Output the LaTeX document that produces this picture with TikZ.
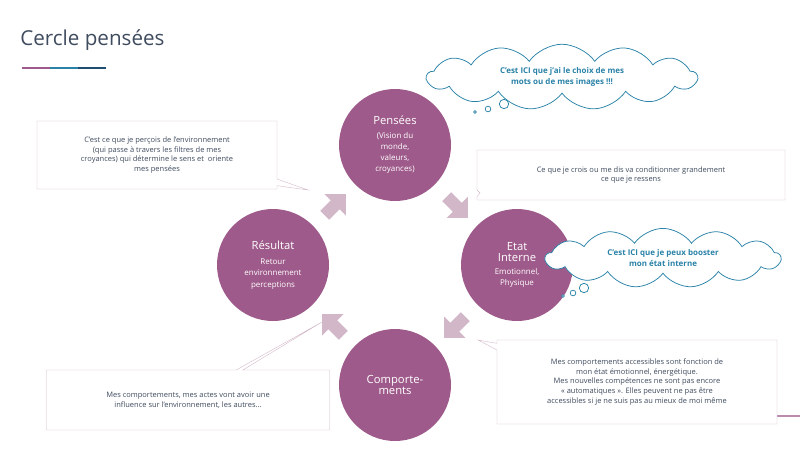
\documentclass[tikz,border=0pt]{standalone}
\usepackage{fontspec}
\setmainfont{Open Sans}
\usetikzlibrary{shapes.symbols,shapes.arrows,shapes.callouts}
\definecolor{prune}{HTML}{9E5A8A}
\definecolor{rose}{HTML}{D2B7C8}
\definecolor{ardoise}{HTML}{3F4B5E}
\definecolor{bleu}{HTML}{2A82A8}
\definecolor{bleunuit}{HTML}{1E4F72}

\begin{document}
\begin{tikzpicture}[x=0.0375cm, y=-0.0375cm,
  c/.style={circle, fill=prune, text=white, minimum size=112*0.0375cm, align=center, inner sep=1pt},
  fl/.style={single arrow, fill=rose, minimum height=30*0.0375cm, minimum width=30*0.0375cm, single arrow head extend=3pt, inner sep=2pt},
  bulle/.style={rectangle callout, draw=rose, fill=white, text=ardoise, align=center, font=\fontsize{8}{10.5}\selectfont, inner sep=6pt},
  nuage/.style={cloud, cloud puffs=13, cloud puff arc=110, aspect=4.2, draw=bleu, thick, fill=white, text=bleu, align=center, font=\fontsize{8.5}{11}\selectfont\bfseries},
  rond/.style={circle, draw=bleu, thick, fill=white, inner sep=0pt}]
\useasboundingbox (0,0) rectangle (800,449);
% titre
\node[anchor=west, text=ardoise, font=\fontsize{22}{26}\selectfont] (titre) at (17,40) {Cercle pensées};
\draw[prune, line width=2.5pt] (22,68) -- (50,68);
\draw[bleu, line width=2.5pt] (50,68) -- (78,68);
\draw[bleunuit, line width=2.5pt] (78,68) -- (106,68);
\draw[prune!70, line width=2pt] (777,416) -- (800,416);
% cercles
\node[c] (P) at (395,145) {{\fontsize{12}{14}\selectfont Pensées}\\[2pt]{\fontsize{8.5}{11}\selectfont (Vision du}\\{\fontsize{8.5}{11}\selectfont monde,}\\{\fontsize{8.5}{11}\selectfont valeurs,}\\{\fontsize{8.5}{11}\selectfont croyances)}};
\node[c] (E) at (517,265) {{\fontsize{12}{14}\selectfont Etat}\\{\fontsize{12}{14}\selectfont Interne}\\[2pt]{\fontsize{8.5}{13}\selectfont Emotionnel,}\\{\fontsize{8.5}{13}\selectfont Physique}};
\node[c] (C) at (395,385) {{\fontsize{12}{14}\selectfont Comporte-}\\{\fontsize{12}{14}\selectfont ments}};
\node[c] (R) at (273,265) {{\fontsize{12}{14}\selectfont Résultat}\\[4pt]{\fontsize{8.5}{13}\selectfont Retour}\\{\fontsize{8.5}{13}\selectfont environnement}\\{\fontsize{8.5}{13}\selectfont perceptions}};
% fleches
\node[fl, rotate=45] (f1) at (333,207) {};
\node[fl, rotate=-45] (f2) at (455,205) {};
\node[fl, rotate=-135] (f3) at (457,325) {};
\node[fl, rotate=135] (f4) at (335,327) {};
% bulles
\node[bulle, minimum width=240*0.0375cm, minimum height=68*0.0375cm, callout absolute pointer={(308,190)}] (b1) at (157,155) {C’est ce que je perçois de l’environnement\\(qui passe à travers les filtres de mes\\croyances) qui détermine le sens et~ oriente\\mes pensées};
\node[bulle, minimum width=308*0.0375cm, minimum height=50*0.0375cm, callout absolute pointer={(480,193)}] (b2) at (631,175) {Ce que je crois ou me dis va conditionner grandement\\ce que je ressens};
\node[bulle, minimum width=280*0.0375cm, minimum height=84*0.0375cm, callout absolute pointer={(478,340)}] (b3) at (637,382) {Mes comportements accessibles sont fonction de\\mon état émotionnel, énergétique.\\Mes nouvelles compétences ne sont pas encore\\« automatiques ». Elles peuvent ne pas être\\accessibles si je ne suis pas au mieux de moi même};
\node[bulle, minimum width=283*0.0375cm, minimum height=60*0.0375cm, callout absolute pointer={(322,322)}] (b4) at (188,400) {Mes comportements, mes actes vont avoir une\\influence sur l’environnement, les autres…};
% nuages
\node[nuage, minimum width=270*0.0375cm, minimum height=58*0.0375cm] (n1) at (562,77) {C’est ICI que j’ai le choix de mes\\mots ou de mes images !!!};
\node[rond, minimum size=10pt] (n1a) at (504,104) {};
\node[rond, minimum size=6pt] (n1b) at (488,109) {};
\node[rond, minimum size=3pt] (n1c) at (475,112) {};
\node[nuage, minimum width=235*0.0375cm, minimum height=52*0.0375cm] (n2) at (663,258) {C’est ICI que je peux booster\\mon état interne};
\node[rond, minimum size=10pt] (n2a) at (584,288) {};
\node[rond, minimum size=6pt] (n2b) at (573,293) {};
\node[rond, minimum size=3pt] (n2c) at (563,296) {};
\end{tikzpicture}
\end{document}
